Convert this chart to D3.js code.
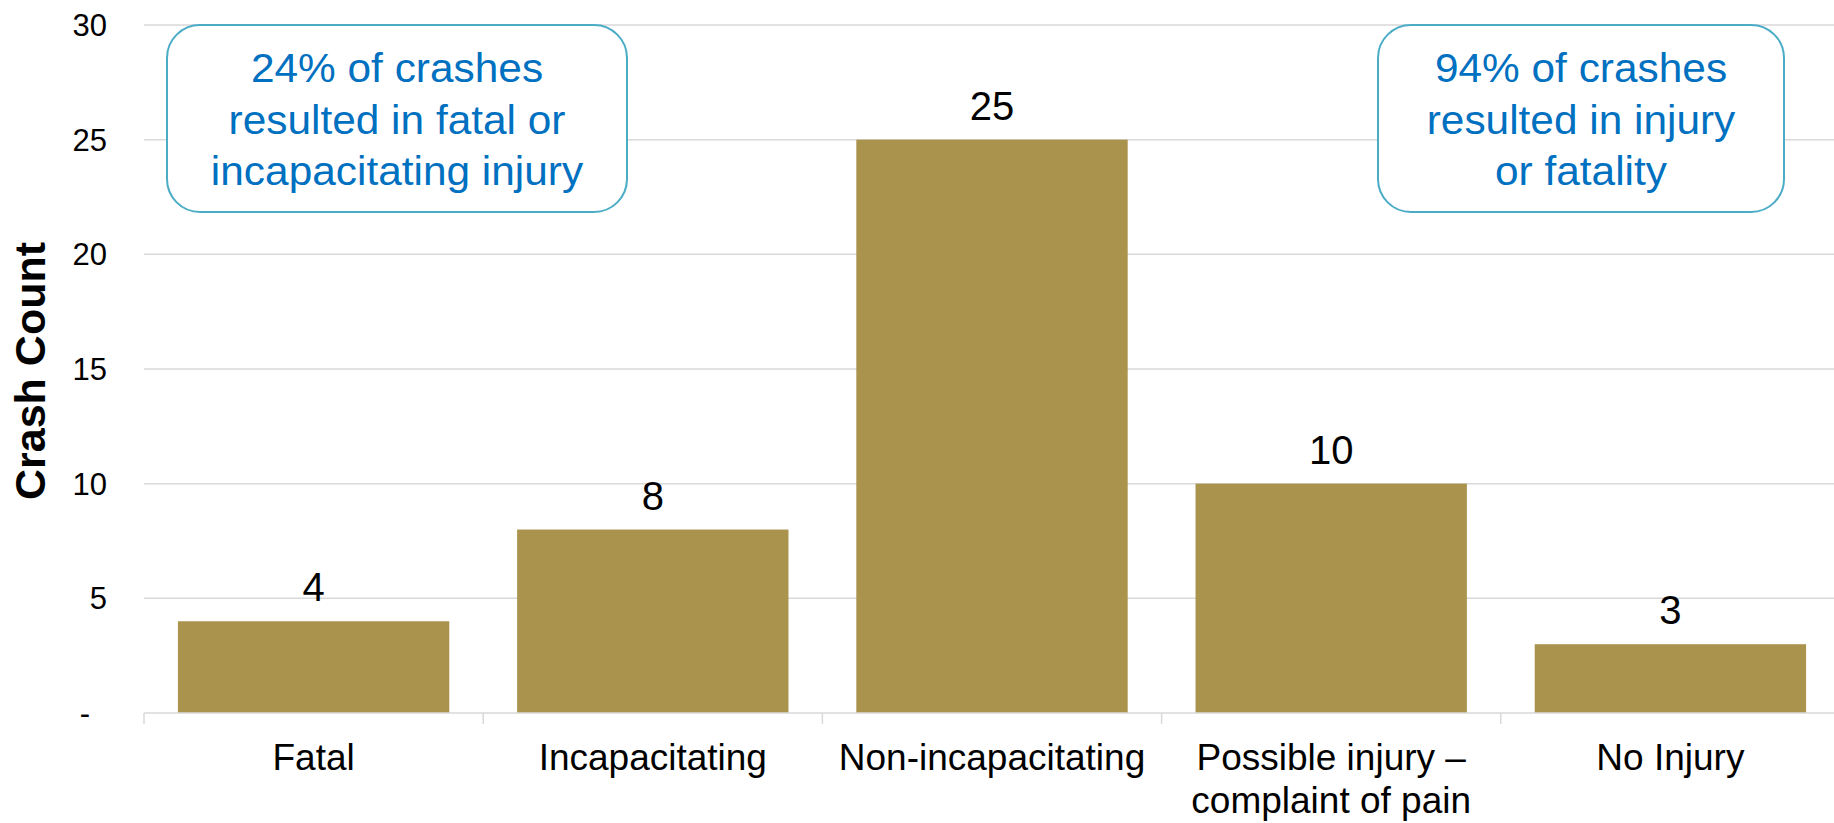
<!DOCTYPE html>
<html>
<head>
<meta charset="utf-8">
<script src="https://cdn.jsdelivr.net/npm/d3@7"></script>
<style>
  body { margin: 0; background: #fff; }
  svg { display: block; font-family: "Liberation Sans", Arial, sans-serif; }
</style>
</head>
<body>
<div id="chart"></div>
<script>
"use strict";

// crash severity categories (x axis), some labels wrap on two lines
var categories = ["Fatal", "Incapacitating", "Non-incapacitating", "Possible injury \u2013|complaint of pain", "No Injury"];
// crash counts per category
var crashCounts = [4, 8, 25, 10, 3];
// y ticks and their labels (zero is shown as a dash)
var yTicks = [0, 5, 10, 15, 20, 25, 30];
var yTickLabels = ["-", "5", "10", "15", "20", "25", "30"];
var yTitle = "Crash Count";
// callout boxes text
var leftNote = ["24% of crashes", "resulted in fatal or", "incapacitating injury"];
var rightNote = ["94% of crashes", "resulted in injury", "or fatality"];

var width = 1834, height = 823;
var margin = {left: 144, top: 25, bottom: 110};
var plotRight = 1840; // plot area runs just past the right edge

var barColor = "#AA934D";
var gridColor = "#D9D9D9";
var noteColor = "#0070C0";
var noteStroke = "#4BACC6";

var svg = d3.select("#chart").append("svg")
    .attr("width", width)
    .attr("height", height);

var xScale = d3.scaleBand()
    .domain(categories)
    .range([margin.left, plotRight])
    .paddingInner(0.2)
    .paddingOuter(0.1);

var yScale = d3.scaleLinear()
    .domain([0, 30])
    .range([height - margin.bottom, margin.top]);

// horizontal gridlines
svg.append("g")
   .selectAll("line")
   .data(yTicks.filter(d => d > 0))
   .enter()
   .append("line")
   .attr("x1", margin.left)
   .attr("x2", plotRight)
   .attr("y1", d => yScale(d))
   .attr("y2", d => yScale(d))
   .attr("stroke", gridColor)
   .attr("stroke-width", 1.5);

// y tick labels
svg.append("g")
   .selectAll("text")
   .data(yTicks)
   .enter()
   .append("text")
   .attr("x", (d, i) => d === 0 ? 90 : 107)
   .attr("y", d => yScale(d))
   .attr("dy", "0.36em")
   .attr("text-anchor", "end")
   .attr("font-size", 31)
   .attr("fill", "#000")
   .text((d, i) => yTickLabels[i]);

// y axis title
svg.append("text")
   .attr("transform", "translate(45," + 371 + ") rotate(-90)")
   .attr("text-anchor", "middle")
   .attr("font-size", 43)
   .attr("font-weight", "bold")
   .attr("fill", "#000")
   .text(yTitle);

// bars
svg.append("g")
   .selectAll("rect")
   .data(crashCounts)
   .enter()
   .append("rect")
   .attr("x", (d, i) => xScale(categories[i]))
   .attr("y", d => yScale(d))
   .attr("width", xScale.bandwidth())
   .attr("height", d => yScale(0) - yScale(d))
   .attr("fill", barColor);

// value labels above bars
svg.append("g")
   .selectAll("text")
   .data(crashCounts)
   .enter()
   .append("text")
   .attr("x", (d, i) => xScale(categories[i]) + xScale.bandwidth() / 2)
   .attr("y", d => yScale(d) - 20)
   .attr("text-anchor", "middle")
   .attr("font-size", 40)
   .attr("fill", "#000")
   .text(d => d);

// x axis baseline and category separator ticks
var x0 = yScale(0);
svg.append("line")
   .attr("x1", margin.left)
   .attr("x2", plotRight)
   .attr("y1", x0)
   .attr("y2", x0)
   .attr("stroke", gridColor)
   .attr("stroke-width", 1.5);

var step = xScale.step();
svg.append("g")
   .selectAll("line")
   .data(d3.range(categories.length + 1))
   .enter()
   .append("line")
   .attr("x1", i => margin.left + i * step)
   .attr("x2", i => margin.left + i * step)
   .attr("y1", x0)
   .attr("y2", x0 + 11)
   .attr("stroke", gridColor)
   .attr("stroke-width", 1.5);

// category labels
var xLabels = svg.append("g")
   .selectAll("text")
   .data(categories)
   .enter()
   .append("text")
   .attr("x", d => xScale(d) + xScale.bandwidth() / 2)
   .attr("y", 770)
   .attr("text-anchor", "middle")
   .attr("font-size", 37)
   .attr("fill", "#000");

xLabels.selectAll("tspan")
   .data(d => d.split("|"))
   .enter()
   .append("tspan")
   .attr("x", function() { return d3.select(this.parentNode).attr("x"); })
   .attr("dy", (d, i) => i === 0 ? 0 : 43)
   .text(d => d);

// rounded callout boxes
function drawNote(lines, x, y, w, h) {
    var g = svg.append("g");
    g.append("rect")
     .attr("x", x)
     .attr("y", y)
     .attr("width", w)
     .attr("height", h)
     .attr("rx", 33)
     .attr("ry", 33)
     .attr("fill", "#fff")
     .attr("stroke", noteStroke)
     .attr("stroke-width", 2);
    // text in the boxes is a bit wider than plain Arial, stretch it slightly
    g.selectAll("text")
     .data(lines)
     .enter()
     .append("text")
     .attr("transform", (d, i) => "translate(" + (x + w / 2) + "," + (y + 57 + i * 51.5) + ") scale(1.06,1)")
     .attr("text-anchor", "middle")
     .attr("font-size", 40)
     .attr("fill", noteColor)
     .text(d => d);
}

drawNote(leftNote, 167, 25, 460, 187);
drawNote(rightNote, 1378, 25, 406, 187);
</script>
</body>
</html>
